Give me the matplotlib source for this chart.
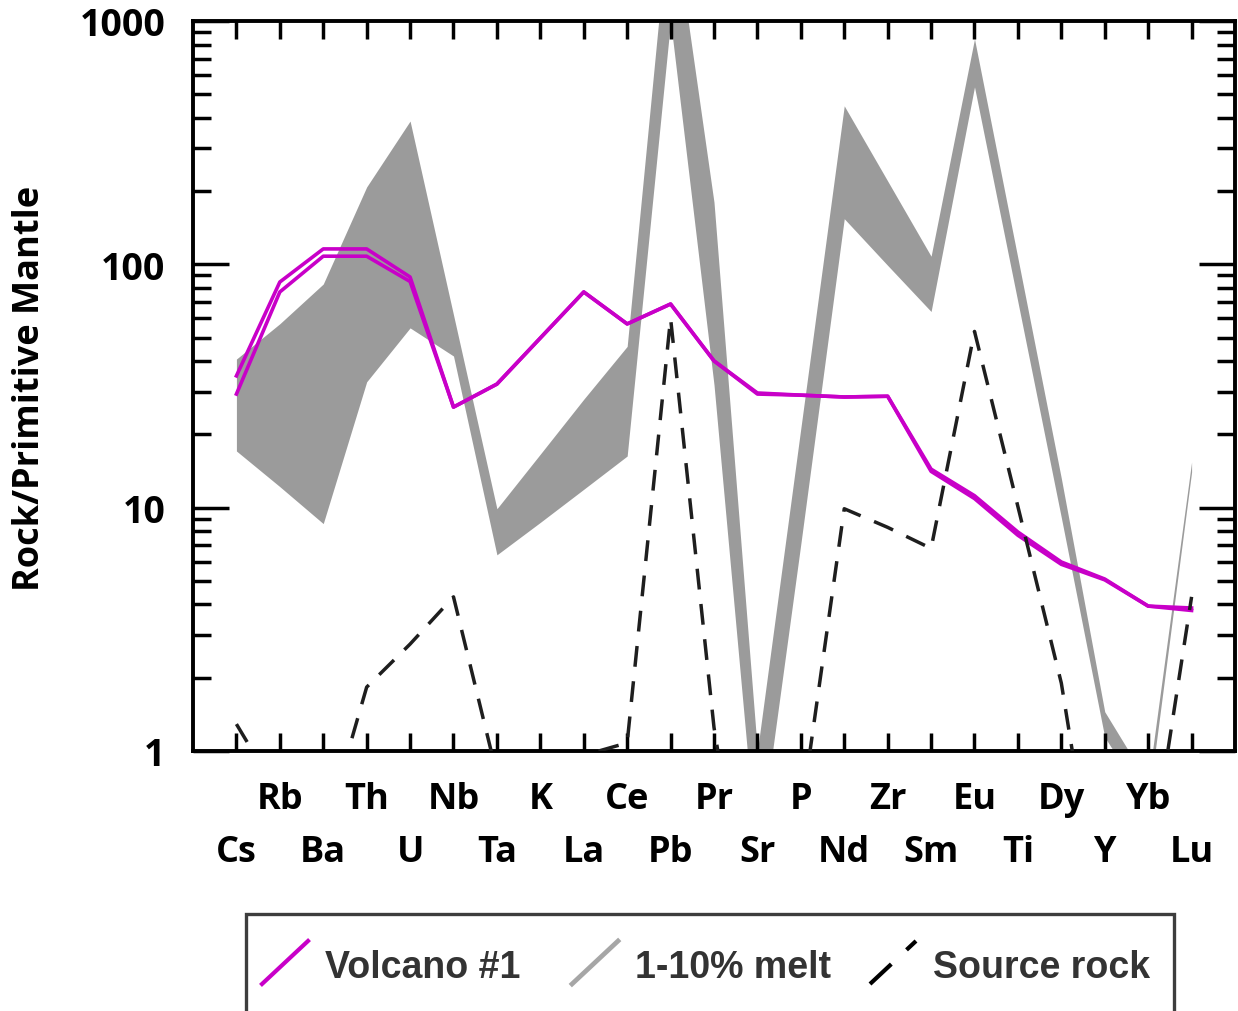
import numpy as np
import matplotlib
matplotlib.use("Agg")
import matplotlib.pyplot as plt
from matplotlib import font_manager
from matplotlib.lines import Line2D
from matplotlib.patches import Rectangle
from matplotlib.ticker import FixedLocator, FixedFormatter, NullFormatter, NullLocator

# Trace elements, ordered as on a primitive-mantle spider diagram
elements = ["Cs", "Rb", "Ba", "Th", "U", "Nb", "Ta", "K", "La", "Ce", "Pb", "Pr",
            "Sr", "P", "Nd", "Zr", "Sm", "Eu", "Ti", "Dy", "Y", "Yb", "Lu"]

# Volcano #1 samples (rock / primitive mantle)
volcano_a = [34.8, 84.6, 115.7, 115.7, 88.7, 25.9, 32.2, 49.8, 77.0, 56.9, 68.7, 40.1,
             29.6, 29.0, 28.5, 28.7, 14.4, 11.2, 7.94, 5.98, 5.09, 3.94, 3.87]
volcano_b = [29.3, 77.0, 108.0, 108.0, 85.0, 25.9, 32.2, 49.8, 77.0, 56.9, 68.7, 40.1,
             29.3, 29.0, 28.5, 28.7, 14.1, 10.9, 7.70, 5.85, 5.05, 3.94, 3.78]

# Modelled partial melts of the source: 1 % melt (upper) and 10 % melt (lower)
melt_1pct = [40.8, 57.0, 83.0, 208.0, 388.0, 62.0, 9.9, 16.6, 27.9, 46.0, 3200.0, 180.0,
             1.0, 21.2, 448.0, 220.0, 108.0, 844.0, 106.0, 13.2, 1.45, 0.74, 15.4]
melt_10pct = [17.1, 12.2, 8.6, 32.9, 54.8, 42.0, 6.4, 8.7, 11.9, 16.3, 1000.0, 32.0,
              0.35, 7.1, 154.0, 99.0, 64.0, 536.0, 70.0, 9.1, 1.14, 0.60, 14.0]

# Source rock composition
source_rock = [1.29, 0.65, 0.44, 1.83, 2.75, 4.3, 0.80, 0.60, 0.96, 1.08, 60.0, 1.25,
               0.10, 0.54, 9.9, 8.3, 6.8, 53.0, 10.1, 1.9, 0.15, 0.30, 4.3]

y_ticks = [1, 10, 100, 1000]
y_tick_labels = ["1", "10", "100", "1000"]

MAGENTA = "#c800c8"
MELT_GRAY = "#9b9b9b"
DASH_COLOR = "#1e1e1e"

W, H = 1238, 1012
fig = plt.figure(figsize=(W / 100, H / 100), dpi=100)
ax = fig.add_axes([193 / W, 1 - 752 / H, (1235 - 193) / W, (752 - 22) / H])

x = np.arange(len(elements))

ax.fill_between(x, melt_10pct, melt_1pct, color=MELT_GRAY, lw=0, zorder=1)
ax.plot(x, volcano_a, color=MAGENTA, lw=2.6, zorder=3)
ax.plot(x, volcano_b, color=MAGENTA, lw=2.6, zorder=3)
ax.plot(x, source_rock, color=DASH_COLOR, lw=2.5, dashes=(6.0, 4.2), zorder=4)

ax.set_yscale("log")
ax.set_ylim(1, 1000)
ax.set_xlim(-1, len(elements))

# Axis frame and ticks
for sp in ax.spines.values():
    sp.set_linewidth(2.8)
    sp.set_color("black")

ax.set_xticks(x)
ax.xaxis.set_minor_locator(NullLocator())
ax.tick_params(axis="x", which="major", direction="in", length=13, width=2.5,
               top=True, bottom=True, labelbottom=False)

ax.yaxis.set_major_locator(FixedLocator(y_ticks))
ax.yaxis.set_major_formatter(FixedFormatter(y_tick_labels))
ax.yaxis.set_minor_locator(FixedLocator([m * d for d in (1, 10, 100) for m in range(2, 10)]))
ax.yaxis.set_minor_formatter(NullFormatter())
ax.tick_params(axis="y", which="major", direction="in", length=26, width=2.5,
               left=True, right=True, pad=20)
ax.tick_params(axis="y", which="minor", direction="in", length=13, width=2.5,
               left=True, right=True)

LABEL_FONT = "Open Sans"
for lab in ax.get_yticklabels():
    lab.set_fontfamily(LABEL_FONT)
    lab.set_fontweight("bold")
    lab.set_fontsize(27)

# Element names in two staggered rows below the axis
for i, name in enumerate(elements):
    off = -57 if i % 2 == 1 else -110
    ax.annotate(name, xy=(i, 0), xycoords=("data", "axes fraction"),
                xytext=(0, off), textcoords="offset pixels",
                ha="center", va="baseline", fontsize=26, fontweight="bold",
                family=LABEL_FONT, annotation_clip=False)

fig.text(30 / W, 1 - 388 / H, "Rock/Primitive Mantle", rotation=90,
         ha="center", va="center", fontsize=26, fontweight="bold", family=LABEL_FONT)

# Legend box with diagonal line keys
names = {f.name for f in font_manager.fontManager.ttflist}
if "Liberation Sans Narrow" in names:
    legend_family, legend_size = "Liberation Sans Narrow", 31
else:
    legend_family, legend_size = "Liberation Sans", 27

fig.patches.append(Rectangle((246 / W, -0.1), (1174 - 246) / W, (1012 - 915) / H + 0.1,
                             transform=fig.transFigure, fill=False, ec="#3d3d3d",
                             lw=2.4, clip_on=False))

entries = [
    (262, "Volcano #1", dict(color=MAGENTA, lw=3.0)),
    (572, "1-10% melt", dict(color="#a6a6a6", lw=3.4)),
    (870, "Source rock", dict(color="black", lw=3.0, dashes=(7.0, 5.0))),
]
for x0, label, style in entries:
    fig.add_artist(Line2D([x0 / W, (x0 + 46) / W], [1 - 985 / H, 1 - 942 / H],
                          transform=fig.transFigure, **style))
    fig.text((x0 + 63) / W, 1 - 978 / H, label, ha="left", va="baseline",
             fontsize=legend_size, fontweight="bold", family=legend_family,
             color="#333333")

fig.savefig("out.png", dpi=100)
